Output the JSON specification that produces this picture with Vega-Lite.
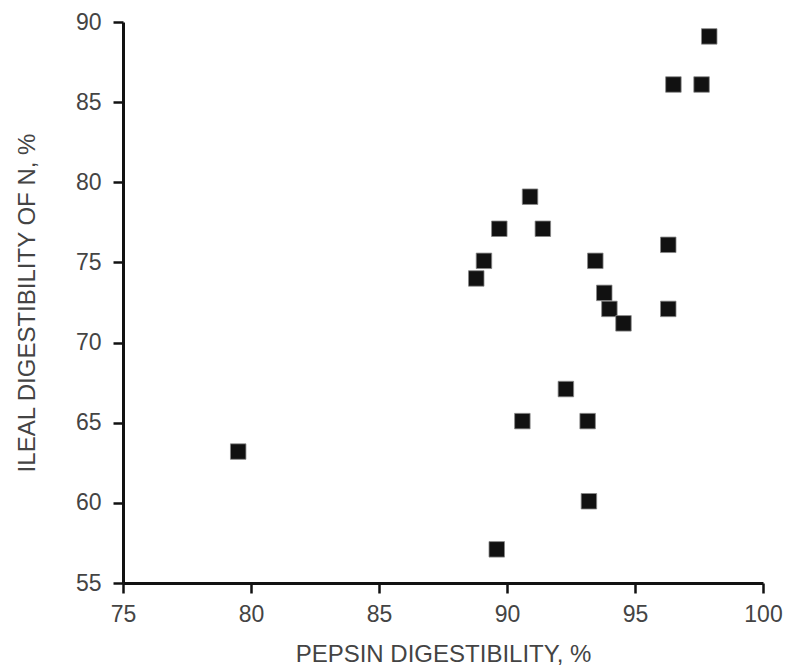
{
  "$schema": "https://vega.github.io/schema/vega-lite/v6.json",
  "width": 640,
  "height": 561,
  "autosize": {"type": "none"},
  "padding": {"left": 123, "top": 22, "right": 27, "bottom": 89},
  "background": "white",
  "config": {
    "view": {"stroke": null},
    "axis": {
      "grid": false,
      "domainColor": "#111",
      "domainWidth": 3,
      "tickColor": "#111",
      "tickWidth": 2.5,
      "tickSize": 10,
      "labelFont": "Liberation Sans",
      "labelFontSize": 23,
      "labelColor": "#444",
      "titleFont": "Liberation Sans",
      "titleFontSize": 24,
      "titleFontWeight": "normal",
      "titleColor": "#444"
    }
  },
  "data": {
    "values": [
      {"pepsin": 79.5, "ileal": 63.2},
      {"pepsin": 88.8, "ileal": 74.0},
      {"pepsin": 89.1, "ileal": 75.1},
      {"pepsin": 89.7, "ileal": 77.1},
      {"pepsin": 89.6, "ileal": 57.1},
      {"pepsin": 90.6, "ileal": 65.1},
      {"pepsin": 90.9, "ileal": 79.1},
      {"pepsin": 91.4, "ileal": 77.1},
      {"pepsin": 92.3, "ileal": 67.1},
      {"pepsin": 93.15, "ileal": 65.1},
      {"pepsin": 93.2, "ileal": 60.1},
      {"pepsin": 93.45, "ileal": 75.1},
      {"pepsin": 93.8, "ileal": 73.1},
      {"pepsin": 94.0, "ileal": 72.1},
      {"pepsin": 94.55, "ileal": 71.2},
      {"pepsin": 96.3, "ileal": 76.1},
      {"pepsin": 96.3, "ileal": 72.1},
      {"pepsin": 96.5, "ileal": 86.1},
      {"pepsin": 97.6, "ileal": 86.1},
      {"pepsin": 97.9, "ileal": 89.1}
    ]
  },
  "mark": {"type": "point", "shape": "square", "filled": true, "size": 240, "color": "#111", "opacity": 1, "stroke": "#888", "strokeWidth": 0.8},
  "encoding": {
    "x": {
      "field": "pepsin",
      "type": "quantitative",
      "scale": {"domain": [75, 100], "nice": false, "zero": false},
      "axis": {"values": [75, 80, 85, 90, 95, 100], "title": "PEPSIN DIGESTIBILITY, %", "labelPadding": 10, "titlePadding": 16, "labelFlush": false}
    },
    "y": {
      "field": "ileal",
      "type": "quantitative",
      "scale": {"domain": [55, 90], "nice": false, "zero": false},
      "axis": {"values": [55, 60, 65, 70, 75, 80, 85, 90], "title": "ILEAL DIGESTIBILITY OF N, %", "labelPadding": 12, "titlePadding": 36, "labelFlush": false}
    }
  }
}
